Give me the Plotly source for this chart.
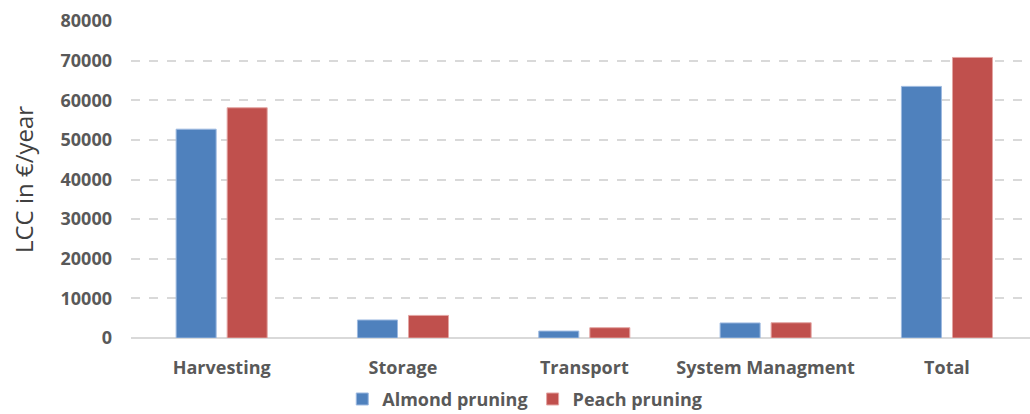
import plotly.graph_objects as go

categories = ["Harvesting", "Storage", "Transport", "System Managment", "Total"]
almond = [52700, 4550, 1750, 3800, 63500]
peach = [58100, 5700, 2600, 3850, 70800]
series_names = ["Almond pruning", "Peach pruning"]
y_ticks = [0, 10000, 20000, 30000, 40000, 50000, 60000, 70000, 80000]

txt = "#595959"
fnt = "Open Sans"

fig = go.Figure()
fig.add_trace(go.Bar(x=categories, y=almond, name=series_names[0],
                     marker=dict(color="#4F81BD", line=dict(color="#9DB9E0", width=1))))
fig.add_trace(go.Bar(x=categories, y=peach, name=series_names[1],
                     marker=dict(color="#C0504D", line=dict(color="#E3A5A3", width=1))))

fig.update_layout(
    width=1030, height=414,
    margin=dict(l=131, r=0, t=21, b=76, autoexpand=False),
    paper_bgcolor="white", plot_bgcolor="white",
    barmode="group", bargap=0.437, bargroupgap=0.216,
    showlegend=True,
    legend=dict(orientation="h", x=0.438, xanchor="center", y=-0.135, yanchor="top",
                font=dict(family=fnt, size=18, color=txt, weight="bold"),
                itemwidth=30, tracegroupgap=0),
    xaxis=dict(range=[-0.5, 4.458], showgrid=False, showline=False, ticks="",
               automargin=False, ticklabelstandoff=17,
               tickfont=dict(family=fnt, size=18, color=txt, weight="bold")),
    yaxis=dict(range=[0, 80000], tickvals=y_ticks, tickformat="d", showgrid=True,
               automargin=False,
               gridcolor="#D9D9D9", griddash="dash", gridwidth=2,
               zeroline=True, zerolinecolor="#D9D9D9", zerolinewidth=2,
               tickfont=dict(family=fnt, size=18, color=txt, weight="bold"),
               ticklabelstandoff=18,
               title=dict(text="LCC in €/year", font=dict(family=fnt, size=24, color="#404040"),
                          standoff=20)),
)

fig.write_html("out.html")
